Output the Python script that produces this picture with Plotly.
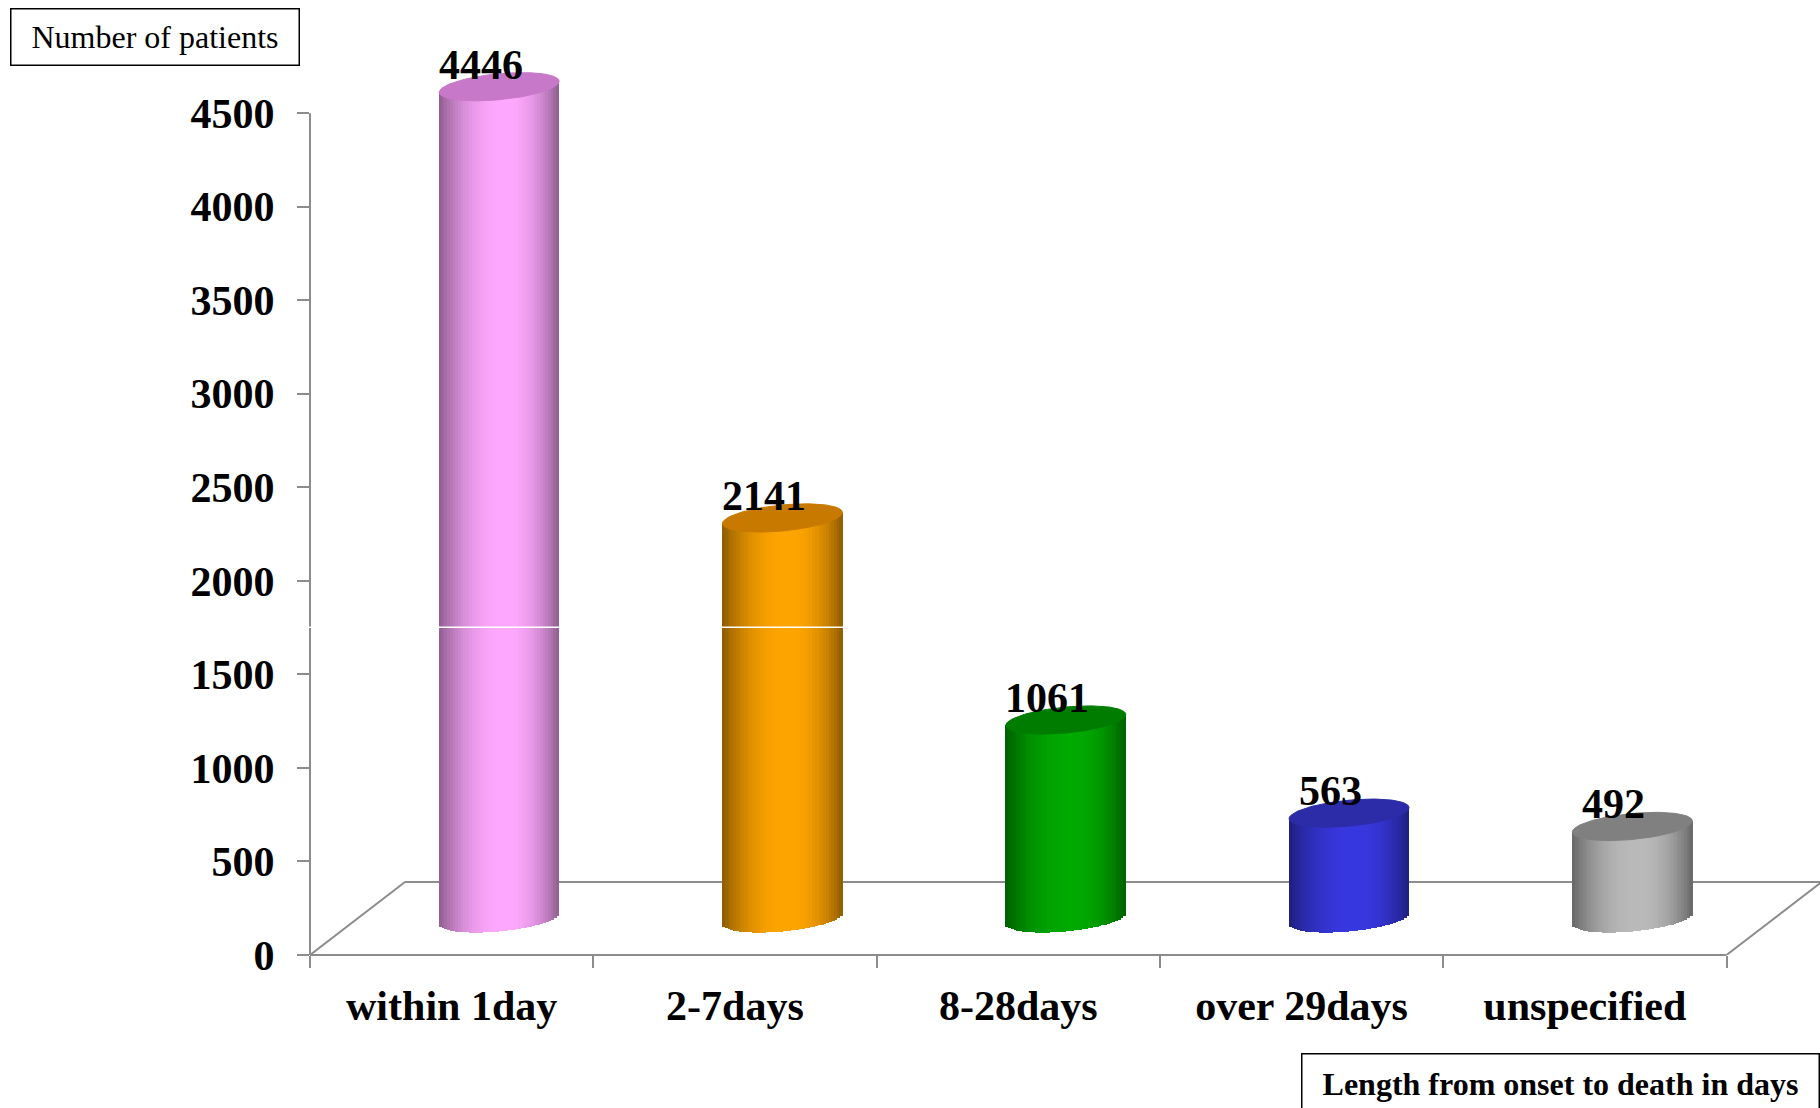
import numpy as np
import plotly.graph_objects as go

# ---- data -------------------------------------------------------------
categories = ["within 1day", "2-7days", "8-28days", "over 29days", "unspecified"]
patients = [4446, 2141, 1061, 563, 492]
body_colors = ["#ffa8ff", "#ffa500", "#00aa00", "#3838e0", "#bababa"]
top_colors = ["#c878c8", "#c87a00", "#007c00", "#2c2ca8", "#808080"]
y_ticks = [0, 500, 1000, 1500, 2000, 2500, 3000, 3500, 4000, 4500]

# ---- page geometry ----------------------------------------------------
W, H = 1820, 1108
Y_AXIS_TOP = 4500           # last labelled value; the axis line stops here
Y_MAX = 4800                # headroom so the tallest cylinder top is not cut
TOP_PX = 113                # pixel row of the 4500 tick
M_L, M_R, M_B = 310, 0, 153
px_y = (H - M_B - TOP_PX) / Y_AXIS_TOP   # pixels per patient
M_T = TOP_PX - (Y_MAX - Y_AXIS_TOP) * px_y
X_MIN, X_MAX = -0.5, 4.83
plot_w = W - M_L - M_R
plot_h = H - M_T - M_B
px_x = plot_w / (X_MAX - X_MIN)          # pixels per category

# pseudo-3D parameters (converted from pixels into data units)
DEPTH_X = 95 / px_x
DEPTH_Y = 73 / px_y
BASE = DEPTH_Y / 2                   # cylinders stand mid-depth on the floor
HALF_W = 60 / px_x
RY = 13 / px_y
SHEAR = 5.5 / px_y
N_STRIPS = 44
PEAK_U = 0.1
EDGE_DARK = 0.56

GRAY = "#8c8c8c"
SERIF = "Liberation Serif"


def hex_rgb(h):
    h = h.lstrip("#")
    return [int(h[i:i + 2], 16) for i in (0, 2, 4)]


def shade(hex_color, u):
    """Colour of the cylinder wall at horizontal position u in [-1, 1]."""
    if u < PEAK_U:
        t = (PEAK_U - u) / (1 + PEAK_U)
    else:
        t = (u - PEAK_U) / (1 - PEAK_U)
    b = 1 - (1 - EDGE_DARK) * t ** 2.2
    r, g, bl = hex_rgb(hex_color)
    return "rgb(%d,%d,%d)" % (r * b, g * b, bl * b)


n = len(categories)
centers_x = [i + DEPTH_X / 2 for i in range(n)]

fig = go.Figure()

# cylinder walls: vertical strips with shading and a rounded bottom edge
edges = np.linspace(-1, 1, N_STRIPS + 1)
strip_w = 2 * HALF_W / N_STRIPS
for u in (edges[:-1] + edges[1:]) / 2:
    bottoms = [BASE + SHEAR * u - RY * np.sqrt(1 - u * u) for _ in range(n)]
    tops = [BASE + v + SHEAR * u for v in patients]
    fig.add_trace(go.Bar(
        x=[c + u * HALF_W for c in centers_x],
        y=[t - b for t, b in zip(tops, bottoms)],
        base=bottoms,
        width=strip_w * 1.2,
        marker=dict(color=[shade(c, u) for c in body_colors], line=dict(width=0)),
        cliponaxis=False,
        showlegend=False,
        hoverinfo="skip",
    ))

# cylinder tops
theta = np.linspace(0, 2 * np.pi, 120)
for cx, v, col in zip(centers_x, patients, top_colors):
    top = BASE + v
    fig.add_trace(go.Scatter(
        x=cx + HALF_W * np.cos(theta),
        y=top + RY * np.sin(theta) + SHEAR * np.cos(theta),
        mode="lines",
        fill="toself",
        fillcolor=col,
        line=dict(color=col, width=1),
        showlegend=False,
        hoverinfo="skip",
    ))

# value labels
for cx, v in zip(centers_x, patients):
    fig.add_annotation(
        x=cx - 0.065, y=BASE + v, text=str(v), showarrow=False,
        yanchor="middle", yshift=22,
        font=dict(family=SERIF, size=42, color="black", weight="bold"),
    )

shapes = []
# value axis line, ending at the top tick
shapes.append(dict(type="line", xref="paper", yref="y", x0=0, x1=0, y0=0, y1=Y_AXIS_TOP,
                   line=dict(color=GRAY, width=2), layer="below"))
# floor of the 3D frame
x_right = X_MIN + n
floor = [
    (X_MIN, 0, X_MIN + DEPTH_X, DEPTH_Y),
    (X_MIN + DEPTH_X, DEPTH_Y, x_right + DEPTH_X, DEPTH_Y),
    (x_right, 0, x_right + DEPTH_X, DEPTH_Y),
]
for x0, y0, x1, y1 in floor:
    shapes.append(dict(type="line", xref="x", yref="y", x0=x0, y0=y0, x1=x1, y1=y1,
                       line=dict(color=GRAY, width=2), layer="below"))
# front edge of the floor
shapes.append(dict(type="line", xref="x", yref="paper", x0=X_MIN, y0=0, x1=x_right, y1=0,
                   line=dict(color=GRAY, width=2), layer="below"))
# thin light seam across the picture
shapes.append(dict(type="line", xref="paper", yref="y", x0=-0.005, x1=1, y0=1752, y1=1752,
                   line=dict(color="white", width=1.5), layer="above"))


def paper_x(px):
    return (px - M_L) / plot_w


def paper_y(py):
    return (H - M_B - py) / plot_h


# axis title boxes
fig.add_annotation(
    xref="paper", yref="paper", x=paper_x(9.6), y=paper_y(8.3),
    xanchor="left", yanchor="top", text="Number of patients", showarrow=False,
    width=287, height=55, borderpad=0, borderwidth=1.5, bordercolor="black",
    align="center", valign="middle",
    font=dict(family=SERIF, size=32, color="black"),
)
fig.add_annotation(
    xref="paper", yref="paper", x=paper_x(1301), y=paper_y(1053),
    xanchor="left", yanchor="top", text="Length from onset to death in days", showarrow=False,
    width=516, height=58, borderpad=0, borderwidth=1.5, bordercolor="black",
    align="center", valign="middle",
    font=dict(family=SERIF, size=32, color="black", weight="bold"),
)

fig.update_layout(
    width=W, height=H,
    margin=dict(l=M_L, r=M_R, t=M_T, b=M_B, pad=0),
    paper_bgcolor="white", plot_bgcolor="white",
    barmode="overlay", bargap=0,
    shapes=shapes,
    showlegend=False,
    xaxis=dict(
        range=[X_MIN, X_MAX], tickmode="array",
        tickvals=list(range(n)), ticktext=categories,
        ticks="", showline=False, showgrid=False, zeroline=False,
        ticklabelstandoff=22,
        tickfont=dict(family=SERIF, size=42, color="black", weight="bold"),
        minor=dict(tickmode="array", tickvals=[X_MIN + k for k in range(n + 1)],
                   ticks="outside", ticklen=12, tickwidth=2, tickcolor=GRAY, showgrid=False),
    ),
    yaxis=dict(
        range=[0, Y_MAX], tickmode="array", tickvals=y_ticks,
        ticks="outside", ticklen=12, tickwidth=2, tickcolor=GRAY,
        showline=False,
        showgrid=False, zeroline=False,
        ticklabelstandoff=14,
        tickfont=dict(family=SERIF, size=42, color="black", weight="bold"),
    ),
)

fig.write_html("out.html")
